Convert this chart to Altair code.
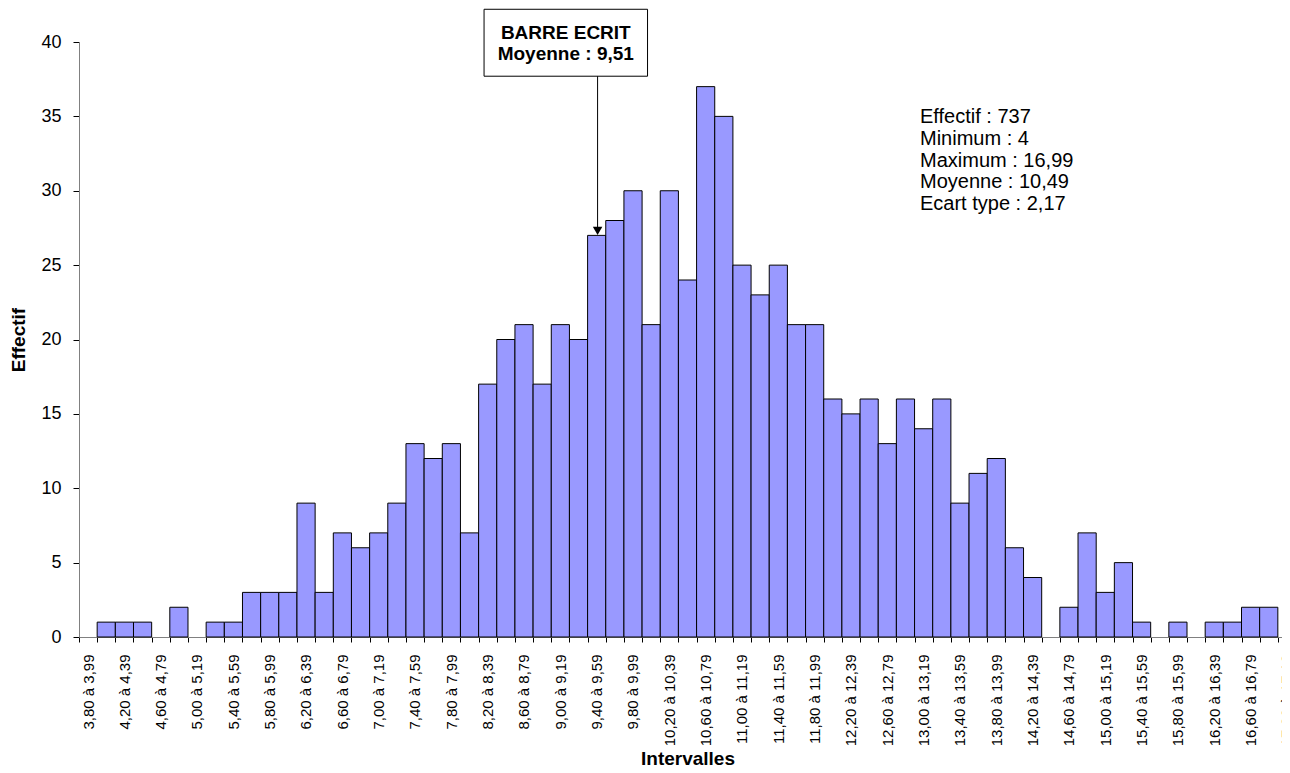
import altair as alt
import pandas as pd

# ---------------- data ----------------
bin_starts = [3.8, 4.0, 4.2, 4.4, 4.6, 4.8, 5.0, 5.2, 5.4, 5.6, 5.8, 6.0, 6.2, 6.4,
              6.6, 6.8, 7.0, 7.2, 7.4, 7.6, 7.8, 8.0, 8.2, 8.4, 8.6, 8.8, 9.0, 9.2,
              9.4, 9.6, 9.8, 10.0, 10.2, 10.4, 10.6, 10.8, 11.0, 11.2, 11.4, 11.6,
              11.8, 12.0, 12.2, 12.4, 12.6, 12.8, 13.0, 13.2, 13.4, 13.6, 13.8, 14.0,
              14.2, 14.4, 14.6, 14.8, 15.0, 15.2, 15.4, 15.6, 15.8, 16.0, 16.2, 16.4,
              16.6, 16.8, 17.0]
counts = [0, 1, 1, 1, 0, 2, 0, 1, 1, 3, 3, 3, 9, 3,
          7, 6, 7, 9, 13, 12, 13, 7, 17, 20, 21, 17, 21, 20,
          27, 28, 30, 21, 30, 24, 37, 35, 25, 23, 25, 21,
          21, 16, 15, 16, 13, 16, 14, 16, 9, 11, 12, 6,
          4, 0, 2, 7, 3, 5, 1, 0, 1, 0, 1, 1,
          2, 2, 0]
bin_width = 0.2

label_starts = [3.8, 4.2, 4.6, 5.0, 5.4, 5.8, 6.2, 6.6, 7.0, 7.4, 7.8, 8.2, 8.6, 9.0,
                9.4, 9.8, 10.2, 10.6, 11.0, 11.4, 11.8, 12.2, 12.6, 13.0, 13.4, 13.8,
                14.2, 14.6, 15.0, 15.4, 15.8, 16.2, 16.6, 17.0]
x_labels = ["3,80 à 3,99", "4,20 à 4,39", "4,60 à 4,79", "5,00 à 5,19", "5,40 à 5,59",
            "5,80 à 5,99", "6,20 à 6,39", "6,60 à 6,79", "7,00 à 7,19", "7,40 à 7,59",
            "7,80 à 7,99", "8,20 à 8,39", "8,60 à 8,79", "9,00 à 9,19", "9,40 à 9,59",
            "9,80 à 9,99", "10,20 à 10,39", "10,60 à 10,79", "11,00 à 11,19",
            "11,40 à 11,59", "11,80 à 11,99", "12,20 à 12,39", "12,60 à 12,79",
            "13,00 à 13,19", "13,40 à 13,59", "13,80 à 13,99", "14,20 à 14,39",
            "14,60 à 14,79", "15,00 à 15,19", "15,40 à 15,59", "15,80 à 15,99",
            "16,20 à 16,39", "16,60 à 16,79", "17,00 à 17,19"]
y_ticks = [0, 5, 10, 15, 20, 25, 30, 35, 40]

stats_lines = ["Effectif : 737", "Minimum : 4", "Maximum : 16,99",
               "Moyenne : 10,49", "Ecart type : 2,17"]
callout_lines = ["BARRE ECRIT", "Moyenne : 9,51"]
callout_mean = 9.51
callout_target = 27

# ---------------- layout (annotation anchors in data units) ----------------
FONT = "Liberation Sans"
X_DOMAIN = [3.8, 17.2]
X_RANGE = 1217
PLOT_W = 1203
PLOT_H = 595
box_x = [8.26, 10.06]
box_y = [37.7, 42.2]
callout_text_y = [40.18, 38.79]
stats_x = 13.06
stats_y = [34.55, 33.09, 31.63, 30.17, 28.71]

# ---------------- tables ----------------
bars = pd.DataFrame({"x": bin_starts, "y": counts})
bars["x2"] = bars["x"] + bin_width
bars = bars[bars["y"] > 0]

edges = bin_starts + [round(bin_starts[-1] + bin_width, 1)]
label_map = ", ".join(f"'{s:.1f}': '{t}'" for s, t in zip(label_starts, x_labels))
label_expr = "({" + label_map + "})[format(datum.value, '.1f')] || ''"

box_df = pd.DataFrame({"x": [box_x[0]], "x2": [box_x[1]], "y": [box_y[0]], "y2": [box_y[1]]})
callout_df = pd.DataFrame({"x": [(box_x[0] + box_x[1]) / 2] * 2, "y": callout_text_y,
                           "t": callout_lines})
arrow_df = pd.DataFrame({"x": [callout_mean], "y": [box_y[0]], "y2": [callout_target + 0.3]})
head_df = pd.DataFrame({"x": [callout_mean], "y": [callout_target + 0.3]})
stats_df = pd.DataFrame({"x": [stats_x] * len(stats_lines), "y": stats_y, "t": stats_lines})

x_enc = alt.X("x:Q",
              scale=alt.Scale(domain=X_DOMAIN, range=[0, X_RANGE], nice=False, zero=False,
                              padding=0),
              axis=alt.Axis(values=edges, tickSize=5, tickColor="black", tickWidth=1,
                            domainColor="#808080", domainWidth=1, grid=False,
                            labelExpr=label_expr, labelAngle=270, labelAlign="right",
                            labelBaseline="middle", labelOffset=9, labelPadding=12,
                            labelFont=FONT, labelFontSize=15, labelColor="black",
                            labelOverlap=False, labelFlush=False, labelBound=False,
                            title="Intervalles", titleFont=FONT, titleFontSize=19,
                            titleFontWeight="bold", titleColor="black",
                            titleX=X_RANGE / 2, titleY=121, titleAlign="center",
                            titleBaseline="middle"))
y_enc = alt.Y("y:Q",
              scale=alt.Scale(domain=[0, 40], nice=False, zero=True, padding=0),
              axis=alt.Axis(values=y_ticks, tickSize=6, tickColor="black", tickWidth=1,
                            domainColor="#808080", domainWidth=1, grid=False,
                            labelFont=FONT, labelFontSize=18, labelColor="black",
                            labelPadding=12,
                            title="Effectif", titleFont=FONT, titleFontSize=19,
                            titleFontWeight="bold", titleColor="black",
                            titleX=-61, titleY=PLOT_H / 2, titleAngle=270,
                            titleAlign="center", titleBaseline="middle"))

bar_layer = alt.Chart(bars).mark_bar(fill="#9999FF", stroke="black", strokeWidth=1,
                                     opacity=1, orient="vertical").encode(
    x=x_enc, x2="x2:Q", y=y_enc, y2=alt.datum(0))

box_layer = alt.Chart(box_df).mark_rect(fill="white", stroke="black", strokeWidth=1).encode(
    x=x_enc, x2="x2:Q", y=y_enc, y2="y2:Q")

callout_text = alt.Chart(callout_df).mark_text(
    font=FONT, fontSize=19, fontWeight="bold", color="black", align="center",
    baseline="alphabetic").encode(x=x_enc, y=y_enc, text="t:N")

arrow_layer = alt.Chart(arrow_df).mark_rule(color="black", strokeWidth=1).encode(
    x=x_enc, y=y_enc, y2="y2:Q")

head_layer = alt.Chart(head_df).mark_point(shape="triangle-down", size=90, filled=True,
                                           color="black", opacity=1).encode(x=x_enc, y=y_enc)

stats_layer = alt.Chart(stats_df).mark_text(
    font=FONT, fontSize=20, color="black", align="left", baseline="alphabetic").encode(
    x=x_enc, y=y_enc, text="t:N")

chart = alt.layer(bar_layer, box_layer, arrow_layer, head_layer, callout_text, stats_layer).properties(
    width=PLOT_W, height=PLOT_H,
    autosize=alt.AutoSizeParams(type="none"),
    padding={"left": 71, "top": 34, "right": 0, "bottom": 136},
    background="white",
).configure_view(stroke=None)

chart.save("out.html", embed_options={"renderer": "svg", "actions": False})
